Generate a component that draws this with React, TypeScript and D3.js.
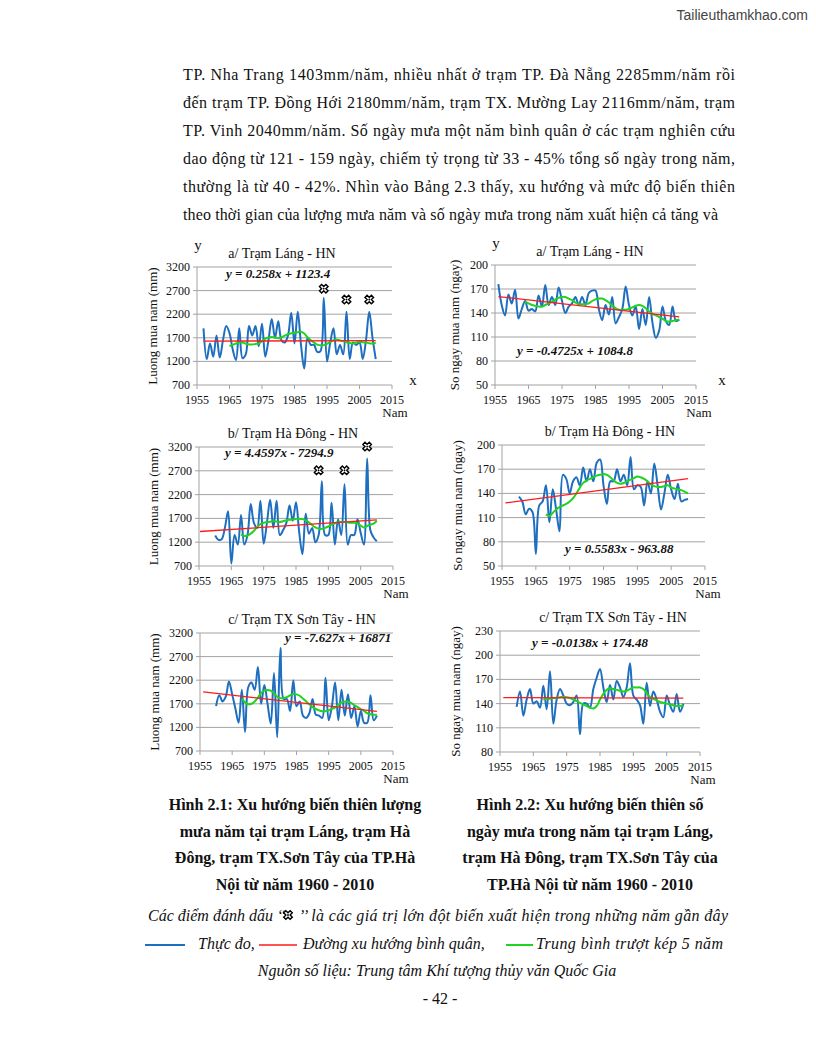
import React from 'react';
import * as d3 from 'd3';

const SERIF = '"Liberation Serif","Times New Roman",Times,serif';
const SANS = '"Liberation Sans",Arial,sans-serif';

// ---------------- text ----------------
const bodyLines = [
  'TP. Nha Trang 1403mm/năm, nhiều nhất ở trạm TP. Đà Nẵng 2285mm/năm rồi',
  'đến trạm TP. Đồng Hới 2180mm/năm, trạm TX. Mường Lay 2116mm/năm, trạm',
  'TP. Vinh 2040mm/năm. Số ngày mưa một năm bình quân ở các trạm nghiên cứu',
  'dao động từ 121 - 159 ngày, chiếm tỷ trọng từ 33 - 45% tổng số ngày trong năm,',
  'thường là từ 40 - 42%. Nhìn vào Bảng 2.3 thấy, xu hướng và mức độ biến thiên',
  'theo thời gian của lượng mưa năm và số ngày mưa trong năm xuất hiện cả tăng và',
];
const captionLeft = [
  'Hình 2.1: Xu hướng biến thiên lượng',
  'mưa năm tại trạm Láng, trạm Hà',
  'Đông, trạm TX.Sơn Tây của TP.Hà',
  'Nội từ năm 1960 - 2010',
];
const captionRight = [
  'Hình 2.2: Xu hướng biến thiên số',
  'ngày mưa trong năm tại trạm Láng,',
  'trạm Hà Đông, trạm TX.Sơn Tây của',
  'TP.Hà Nội từ năm 1960 - 2010',
];
const noteStart = 'Các điểm đánh dấu ‘‘';
const noteEnd = '’’  là các giá trị lớn đột biến xuất hiện trong những năm gần đây';
const legendLabels = ['Thực đo,', 'Đường xu hướng bình quân,', 'Trung bình trượt kép 5 năm'];
const sourceText = 'Nguồn số liệu: Trung tâm Khí tượng thủy văn Quốc Gia';
const pageNumber = '- 42 -';
const watermark = 'Tailieuthamkhao.com';

// ---------------- axes ----------------
const xTickYears = [1955, 1965, 1975, 1985, 1995, 2005, 2015];
const rainTicks = [700, 1200, 1700, 2200, 2700, 3200];
const daysTicksA = [50, 80, 110, 140, 170, 200];
const daysTicksB = [50, 80, 110, 140, 170, 200];
const daysTicksC = [80, 110, 140, 170, 200, 230];
const rainAxisLabel = 'Luong mua nam (mm)';
const daysAxisLabel = 'So ngay mua nam (ngay)';

// ---------------- data ----------------
// a/ Láng - rainfall (mm), 1957-2010
const langRainStart = 1957;
const langRain = [1900, 1250, 1580, 1300, 1750, 1280, 1650, 1950, 1800, 1450, 1230, 1900, 1270, 1350, 1950, 1750, 1950, 1520, 2000, 1300, 1650, 2100, 1700, 2050, 1650, 1600, 1750, 2230, 1580, 2250, 1550, 1050, 1700, 1550, 1550, 1400, 1420, 2550, 1200, 1600, 1900, 1350, 1550, 1350, 2250, 1250, 1600, 1550, 1600, 1250, 1650, 2250, 1700, 1250];
const langRainMAStart = 1965;
const langRainMA = [1525, 1550, 1580, 1605, 1600, 1575, 1560, 1560, 1570, 1580, 1630, 1680, 1705, 1718, 1705, 1690, 1710, 1745, 1775, 1795, 1805, 1818, 1826, 1790, 1710, 1650, 1600, 1555, 1540, 1545, 1570, 1610, 1650, 1665, 1645, 1630, 1605, 1590, 1580, 1600, 1615, 1605, 1600, 1585, 1580, 1595];
const langRainTrend = [0.258, 1123.4];
const langRainTrendYears = [1957, 2010];
const langRainMarks: [number, number][] = [[1994, 2740], [2001, 2510], [2008, 2510]];

// a/ Láng - rain days, 1956-2010
const langDaysStart = 1956;
const langDays = [176, 150, 137, 163, 152, 169, 133, 145, 155, 143, 145, 142, 162, 148, 175, 150, 160, 150, 172, 155, 140, 148, 152, 160, 150, 160, 150, 165, 168, 168, 145, 131, 150, 138, 160, 127, 135, 145, 173, 150, 137, 148, 120, 145, 125, 160, 128, 109, 118, 148, 130, 125, 148, 130, 132];
const langDaysMAStart = 1964;
const langDaysMA = [154, 152, 150, 149, 148, 148, 150, 152, 154, 157, 159, 160, 160, 158, 156, 153, 151, 151, 151, 152, 155, 157, 158, 158, 156, 153, 149, 146, 144, 144, 144, 145, 147, 149, 150, 149, 146, 142, 139, 137, 135, 133, 130, 129, 130, 131, 132];
const langDaysTrend = [-0.4725, 1084.8];
const langDaysTrendYears = [1956, 2010];

// b/ Hà Đông - rainfall, 1960-2010
const haDongRainStart = 1960;
const haDongRain = [1340, 1250, 1260, 1500, 1850, 750, 1350, 1150, 1770, 1150, 1350, 2000, 1600, 1500, 2070, 1170, 1600, 2090, 1500, 2070, 1350, 1450, 1600, 1970, 1650, 2040, 1400, 950, 1800, 1380, 1500, 1200, 1350, 2480, 1350, 1350, 2030, 1150, 1680, 1350, 2420, 1150, 1350, 1350, 1680, 1400, 1150, 2960, 1450, 1300, 1220];
const haDongRainMAStart = 1968;
const haDongRainMA = [1360, 1330, 1340, 1380, 1440, 1520, 1580, 1610, 1620, 1630, 1640, 1635, 1625, 1640, 1660, 1670, 1675, 1690, 1695, 1685, 1660, 1620, 1560, 1510, 1485, 1480, 1500, 1530, 1570, 1595, 1620, 1625, 1625, 1615, 1610, 1610, 1595, 1550, 1510, 1540, 1570, 1590, 1650];
const haDongRainTrend = [4.4597, -7294.9];
const haDongRainTrendYears = [1955.3, 2010];
const haDongRainMarks: [number, number][] = [[1992, 2710], [2000, 2710], [2007, 3210]];

// b/ Hà Đông - rain days, 1960-2010
const haDongDaysStart = 1960;
const haDongDays = [136, 130, 114, 121, 117, 65, 125, 130, 150, 104, 145, 120, 93, 163, 158, 140, 155, 160, 150, 172, 155, 170, 155, 178, 182, 150, 127, 155, 155, 170, 155, 163, 150, 185, 145, 150, 148, 125, 155, 140, 177, 150, 120, 140, 163, 145, 133, 152, 130, 132, 133];
const haDongDaysMAStart = 1968;
const haDongDaysMA = [114, 112, 116, 120, 123, 125, 127, 130, 134, 140, 147, 153, 156, 158, 160, 162, 163, 164, 163, 160, 156, 153, 152, 153, 155, 157, 159, 161, 160, 158, 155, 151, 149, 148, 148, 149, 150, 147, 146, 145, 144, 142, 140];
const haDongDaysTrend = [0.5583, -963.88];
const haDongDaysTrendYears = [1956, 2010];

// c/ Sơn Tây - rainfall, 1960-2010
const sonTayRainStart = 1960;
const sonTayRain = [1650, 1880, 1750, 1850, 2170, 1900, 1600, 1300, 2000, 1100, 2050, 2150, 2000, 2480, 1700, 2100, 1700, 1280, 2350, 990, 2880, 1800, 1800, 1550, 2200, 1650, 1750, 1450, 1400, 1500, 1800, 1470, 1450, 1400, 2250, 1350, 1650, 2150, 1350, 2000, 1450, 1900, 1400, 1650, 1220, 1550, 1300, 1300, 1880, 1350, 1450];
const sonTayRainMAStart = 1968;
const sonTayRainMA = [1810, 1730, 1690, 1700, 1750, 1830, 1930, 1980, 1995, 1980, 1920, 1850, 1820, 1820, 1840, 1880, 1910, 1900, 1870, 1810, 1750, 1690, 1630, 1590, 1560, 1540, 1545, 1560, 1590, 1625, 1680, 1730, 1745, 1750, 1720, 1670, 1630, 1590, 1550, 1500, 1480, 1470, 1460];
const sonTayRainTrend = [-7.627, 16871];
const sonTayRainTrendYears = [1956, 2010];

// c/ Sơn Tây - rain days, 1960-2010
const sonTayDaysStart = 1960;
const sonTayDays = [136, 155, 125, 145, 158, 140, 143, 135, 162, 133, 180, 115, 145, 158, 150, 140, 138, 142, 150, 102, 140, 140, 135, 158, 172, 183, 160, 142, 163, 145, 168, 160, 148, 160, 190, 150, 145, 138, 115, 166, 137, 155, 145, 130, 123, 150, 138, 130, 152, 130, 140];
const sonTayDaysMAStart = 1968;
const sonTayDaysMA = [145, 146, 146, 147, 147, 148, 148, 148, 147, 145, 143, 141, 139, 137, 135, 134, 137, 145, 152, 157, 159, 158, 157, 156, 155, 156, 158, 160, 160, 160, 158, 153, 148, 146, 144, 142, 141, 140, 139, 138, 137, 137, 138];
const sonTayDaysTrend = [-0.0138, 174.48];
const sonTayDaysTrendYears = [1956, 2010];

// ---------------- styles ----------------
const BLUE = '#1f6fc0';
const RED = '#ff1a1a';
const GREEN = '#1ed41e';
const GRID = '#a3a3a3';
const INK = '#111';

type Layout = {
  x0: number; x1: number; yTop: number; yBot: number;
  titleX: number; eqX: number; eqY: number; yLabelX: number;
  showXY: boolean; xLetterX: number;
};

type PanelProps = {
  layout: Layout;
  ticks: number[];
  title: string;
  eq: string;
  yLabel: string;
  blue: number[]; blueStart: number;
  green: number[]; greenStart: number;
  trend: number[]; trendYears: number[];
  marks?: [number, number][];
};

const markerPath = d3.symbol(d3.symbolCross, 46)() as string;

function Marker({ x, y }: { x: number; y: number }) {
  return (
    <g transform={`translate(${x},${y}) rotate(45)`}>
      <path d={markerPath} fill="#fff" stroke="#000" strokeWidth={1.4} />
      <circle r={0.9} fill="#000" />
    </g>
  );
}

function Panel(p: PanelProps) {
  const L = p.layout;
  const x = d3.scaleLinear().domain([1955, 2015]).range([L.x0, L.x1]);
  const y = d3.scaleLinear().domain([p.ticks[0], p.ticks[p.ticks.length - 1]]).range([L.yBot, L.yTop]);
  const smooth = d3.line<[number, number]>().x(d => x(d[0])).y(d => y(d[1])).curve(d3.curveCatmullRom.alpha(0.5));
  const straight = d3.line<[number, number]>().x(d => x(d[0])).y(d => y(d[1]));
  const bluePts = p.blue.map((v, i) => [p.blueStart + i, v] as [number, number]);
  const greenPts = p.green.map((v, i) => [p.greenStart + i, v] as [number, number]);
  const trendPts = p.trendYears.map(yr => [yr, p.trend[0] * yr + p.trend[1]] as [number, number]);
  const midY = (L.yTop + L.yBot) / 2;
  return (
    <g fontFamily={SERIF} fill={INK}>
      {p.ticks.map(t => (
        <line key={'g' + t} x1={L.x0 - 4} x2={L.x1} y1={y(t)} y2={y(t)} stroke={GRID} strokeWidth={1} />
      ))}
      <line x1={L.x0} x2={L.x0} y1={L.yTop} y2={L.yBot} stroke={GRID} strokeWidth={1} />
      {xTickYears.map(t => (
        <line key={'xt' + t} x1={x(t)} x2={x(t)} y1={L.yBot} y2={L.yBot + 4} stroke={GRID} strokeWidth={1} />
      ))}
      {p.ticks.map(t => (
        <text key={'yl' + t} x={L.x0 - 7} y={y(t) + 4} fontSize={12} textAnchor="end">{t}</text>
      ))}
      {xTickYears.map(t => (
        <text key={'xl' + t} x={x(t)} y={L.yBot + 19} fontSize={12} textAnchor="middle">{t}</text>
      ))}
      <path d={smooth(bluePts) as string} fill="none" stroke={BLUE} strokeWidth={2} strokeLinejoin="round" />
      <path d={smooth(greenPts) as string} fill="none" stroke={GREEN} strokeWidth={2} />
      <path d={straight(trendPts) as string} fill="none" stroke={RED} strokeWidth={1.3} />
      {(p.marks || []).map((m, i) => (
        <Marker key={'m' + i} x={x(m[0])} y={y(m[1])} />
      ))}
      <text x={L.titleX} y={L.yTop - 9} fontSize={14} textAnchor="middle">{p.title}</text>
      <text x={L.eqX} y={L.eqY} fontSize={13} fontWeight="bold" fontStyle="italic">{p.eq}</text>
      <text transform={`translate(${L.yLabelX},${midY}) rotate(-90)`} fontSize={13} textAnchor="middle">{p.yLabel}</text>
      <text x={L.x1 + 3} y={L.yBot + 32} fontSize={13} textAnchor="middle">Nam</text>
      {L.showXY && (
        <>
          <text x={L.x0 + 1} y={L.yTop - 17} fontSize={15} textAnchor="middle">y</text>
          <text x={L.xLetterX} y={L.yBot} fontSize={15} textAnchor="middle">x</text>
        </>
      )}
    </g>
  );
}

const layouts: Layout[] = [
  { x0: 197, x1: 392, yTop: 267, yBot: 385, titleX: 282, eqX: 226, eqY: 278, yLabelX: 157, showXY: true, xLetterX: 413 },
  { x0: 495, x1: 696, yTop: 265, yBot: 385, titleX: 590, eqX: 517, eqY: 355, yLabelX: 459, showXY: true, xLetterX: 722 },
  { x0: 199, x1: 393, yTop: 447, yBot: 566, titleX: 293, eqX: 225, eqY: 457, yLabelX: 158, showXY: false, xLetterX: 0 },
  { x0: 502, x1: 705, yTop: 445, yBot: 566, titleX: 610, eqX: 565, eqY: 553, yLabelX: 462, showXY: false, xLetterX: 0 },
  { x0: 200, x1: 393, yTop: 633, yBot: 751, titleX: 302, eqX: 285, eqY: 642, yLabelX: 159, showXY: false, xLetterX: 0 },
  { x0: 500, x1: 700, yTop: 631, yBot: 752, titleX: 613, eqX: 532, eqY: 647, yLabelX: 460, showXY: false, xLetterX: 0 },
];

const panels: PanelProps[] = [
  { layout: layouts[0], ticks: rainTicks, title: 'a/ Trạm Láng - HN', eq: 'y = 0.258x + 1123.4', yLabel: rainAxisLabel,
    blue: langRain, blueStart: langRainStart, green: langRainMA, greenStart: langRainMAStart,
    trend: langRainTrend, trendYears: langRainTrendYears, marks: langRainMarks },
  { layout: layouts[1], ticks: daysTicksA, title: 'a/ Trạm Láng - HN', eq: 'y = -0.4725x + 1084.8', yLabel: daysAxisLabel,
    blue: langDays, blueStart: langDaysStart, green: langDaysMA, greenStart: langDaysMAStart,
    trend: langDaysTrend, trendYears: langDaysTrendYears },
  { layout: layouts[2], ticks: rainTicks, title: 'b/ Trạm Hà Đông - HN', eq: 'y = 4.4597x - 7294.9', yLabel: rainAxisLabel,
    blue: haDongRain, blueStart: haDongRainStart, green: haDongRainMA, greenStart: haDongRainMAStart,
    trend: haDongRainTrend, trendYears: haDongRainTrendYears, marks: haDongRainMarks },
  { layout: layouts[3], ticks: daysTicksB, title: 'b/ Trạm Hà Đông - HN', eq: 'y = 0.5583x - 963.88', yLabel: daysAxisLabel,
    blue: haDongDays, blueStart: haDongDaysStart, green: haDongDaysMA, greenStart: haDongDaysMAStart,
    trend: haDongDaysTrend, trendYears: haDongDaysTrendYears },
  { layout: layouts[4], ticks: rainTicks, title: 'c/ Trạm TX Sơn Tây - HN', eq: 'y = -7.627x + 16871', yLabel: rainAxisLabel,
    blue: sonTayRain, blueStart: sonTayRainStart, green: sonTayRainMA, greenStart: sonTayRainMAStart,
    trend: sonTayRainTrend, trendYears: sonTayRainTrendYears },
  { layout: layouts[5], ticks: daysTicksC, title: 'c/ Trạm TX Sơn Tây - HN', eq: 'y = -0.0138x + 174.48', yLabel: daysAxisLabel,
    blue: sonTayDays, blueStart: sonTayDaysStart, green: sonTayDaysMA, greenStart: sonTayDaysMAStart,
    trend: sonTayDaysTrend, trendYears: sonTayDaysTrendYears },
];

export default function App() {
  return (
    <svg width={816} height={1056} viewBox="0 0 816 1056"
      style={{ position: 'absolute', left: 0, top: 0, background: '#fff' }}>
      <rect width={816} height={1056} fill="#fff" />
      <text x={808} y={20} fontFamily={SANS} fontSize={14} fill="#444" textAnchor="end">{watermark}</text>

      <g fontFamily={SERIF} fontSize={16} fill={INK}>
        {bodyLines.map((t, i) => (
          <text key={i} x={183} y={80 + i * 28} textLength={i < 5 ? 552 : 535} lengthAdjust="spacing">{t}</text>
        ))}
      </g>

      {panels.map((p, i) => <Panel key={i} {...p} />)}

      <g fontFamily={SERIF} fontSize={16} fontWeight="bold" fill={INK} textAnchor="middle">
        {captionLeft.map((t, i) => (
          <text key={'l' + i} x={295} y={810 + i * 26.5}>{t}</text>
        ))}
        {captionRight.map((t, i) => (
          <text key={'r' + i} x={590} y={810 + i * 26.5}>{t}</text>
        ))}
      </g>

      <g fontFamily={SERIF} fontSize={16} fontStyle="italic" fill={INK}>
        <text x={148} y={921}>{noteStart}</text>
        <Marker x={288} y={915} />
        <text x={299} y={921} textLength={429} lengthAdjust="spacing">{noteEnd}</text>

        <line x1={145} x2={185} y1={945} y2={945} stroke={BLUE} strokeWidth={2} />
        <text x={198} y={949}>{legendLabels[0]}</text>
        <line x1={259} x2={297} y1={945} y2={945} stroke={RED} strokeWidth={1.5} />
        <text x={303} y={949}>{legendLabels[1]}</text>
        <line x1={506} x2={533} y1={945} y2={945} stroke={GREEN} strokeWidth={2} />
        <text x={536} y={949} textLength={187} lengthAdjust="spacing">{legendLabels[2]}</text>

        <text x={437} y={976} textAnchor="middle">{sourceText}</text>
      </g>
      <text x={440} y={1004} fontFamily={SERIF} fontSize={16} fill={INK} textAnchor="middle">{pageNumber}</text>
    </svg>
  );
}
